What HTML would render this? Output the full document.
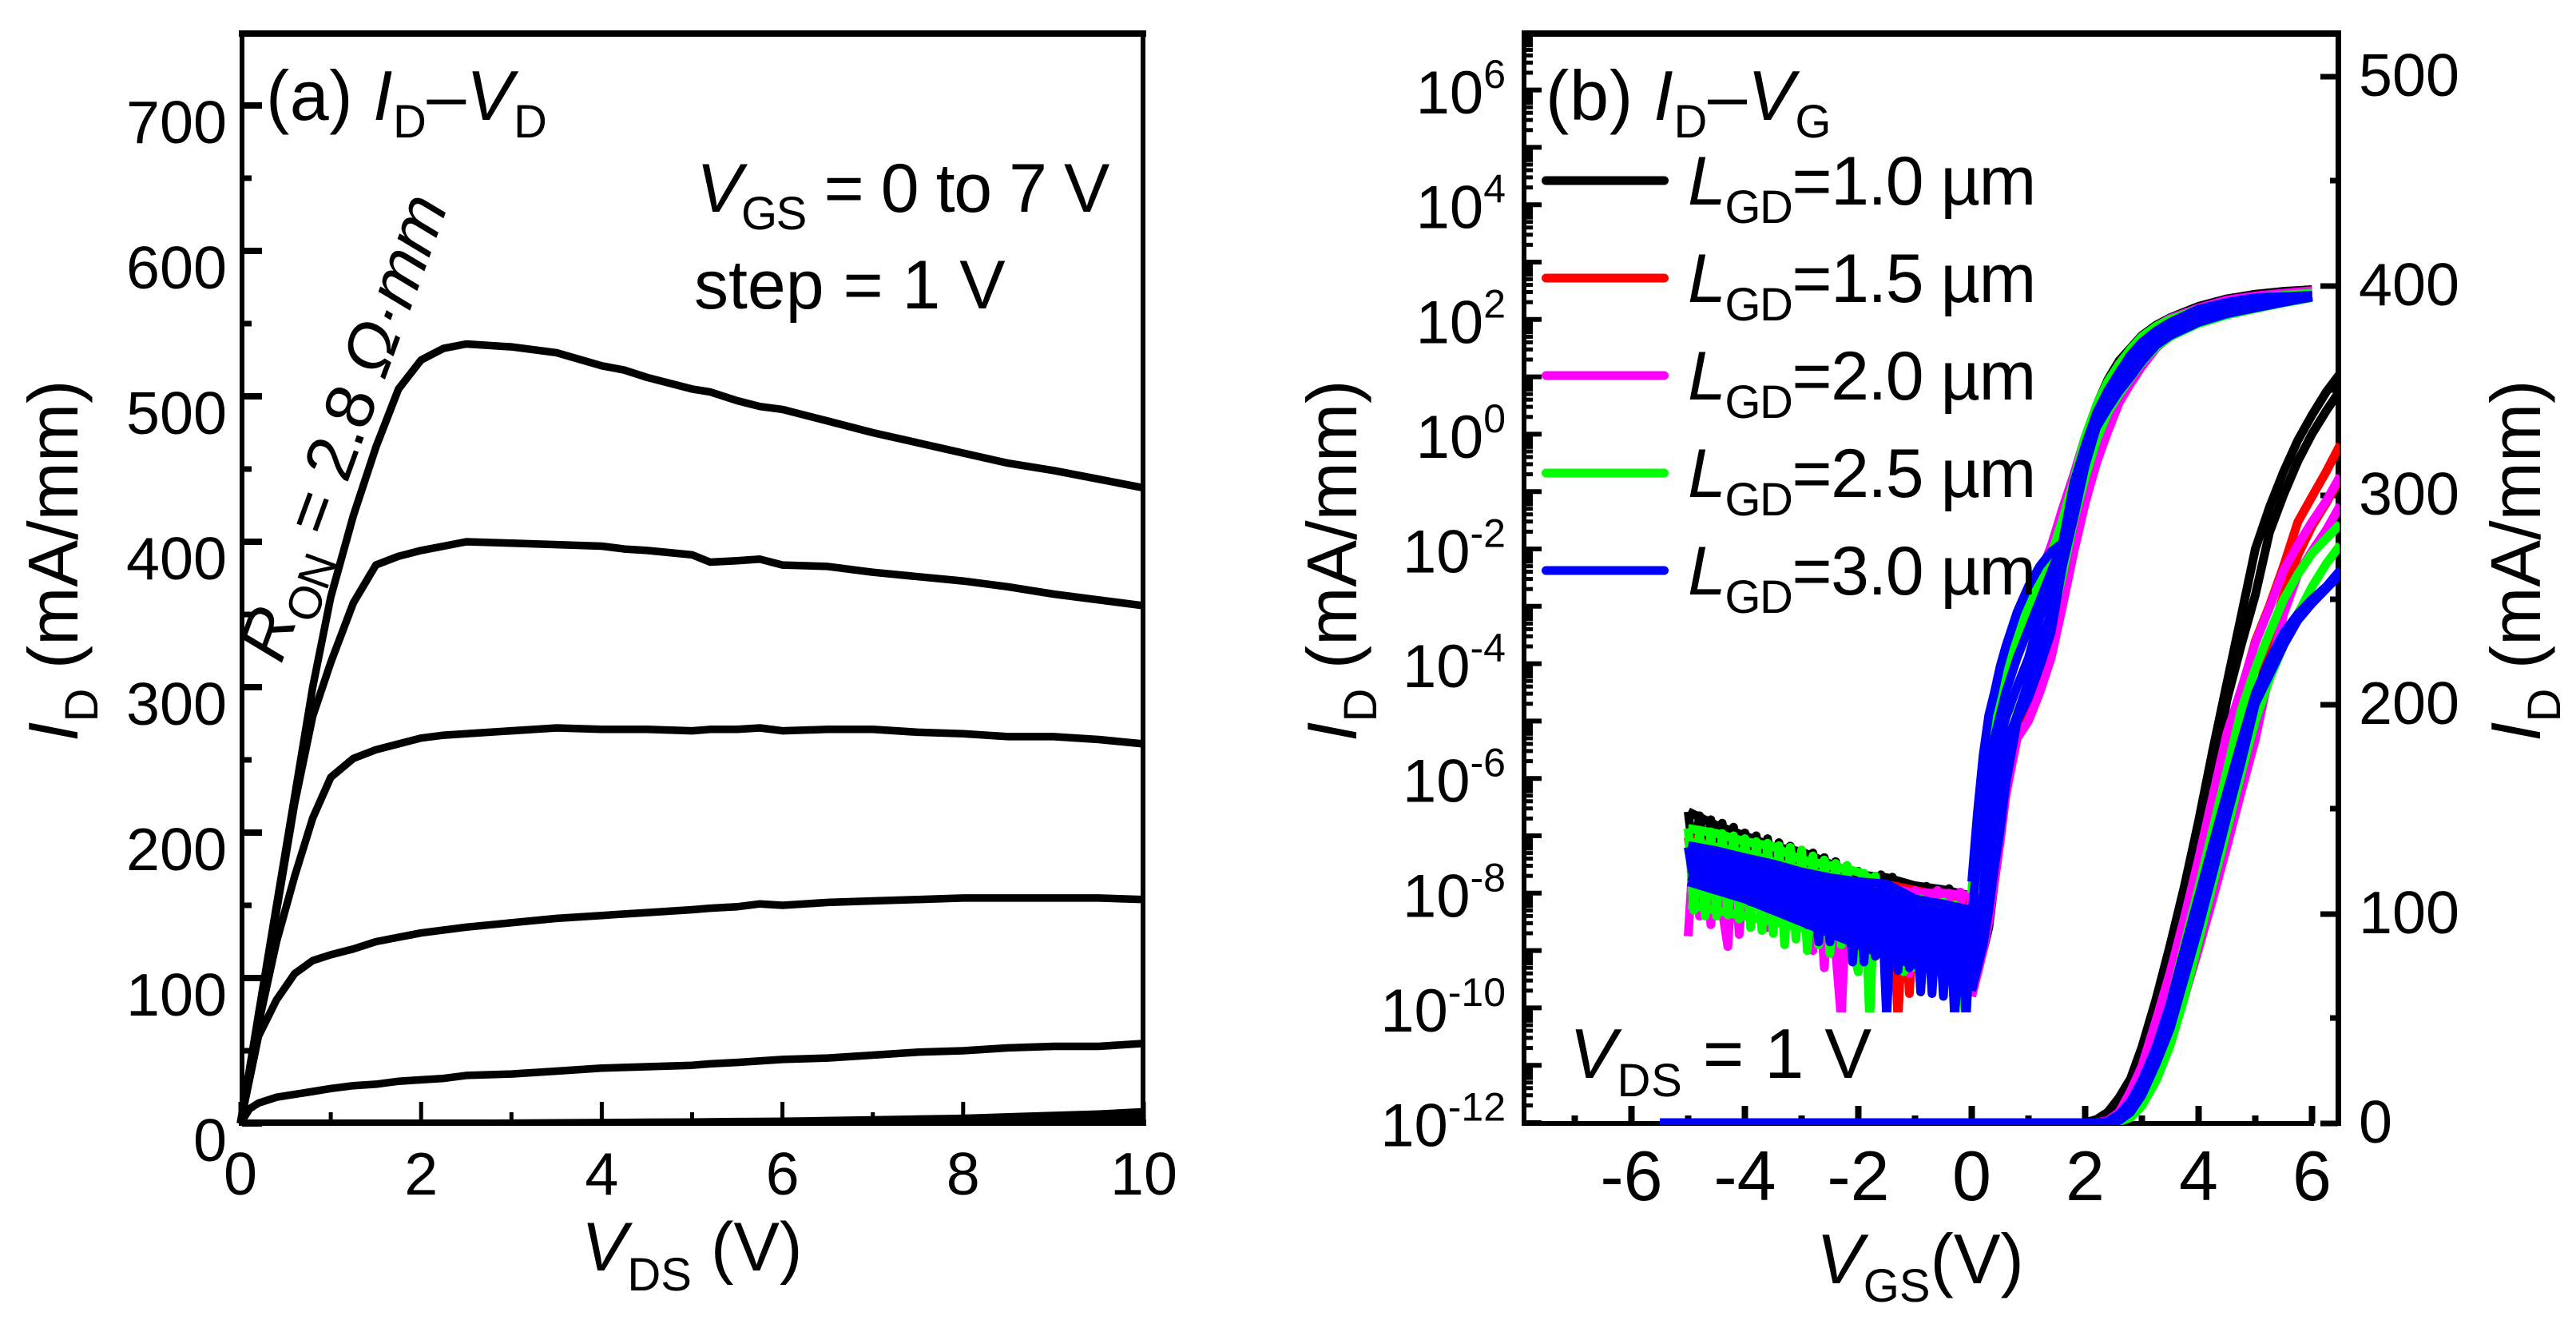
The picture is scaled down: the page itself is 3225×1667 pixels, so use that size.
<!DOCTYPE html>
<html lang="en">
<head>
<meta charset="utf-8">
<title>ID-VD and ID-VG characteristics</title>
<style>
html,body{margin:0;padding:0;background:#fff;}
svg{display:block;}
text{font-family:"Liberation Sans",Arial,sans-serif;fill:#000;}
.i{font-style:italic;}
</style>
</head>
<body>
<svg id="fig" xmlns="http://www.w3.org/2000/svg" width="3225" height="1667" viewBox="0 0 3225 1667">
<defs>
<clipPath id="floorClip"><rect x="2000" y="900" width="700" height="367"/></clipPath>
<clipPath id="linClip"><rect x="1900" y="40" width="1029" height="1368"/></clipPath>
<clipPath id="aClip"><rect x="296" y="40" width="1137" height="1369"/></clipPath>
</defs>
<rect x="0" y="0" width="3225" height="1667" fill="#fff"/>

<g id="panelA"></g>
<g id="panelB"></g>

<!-- panel a text -->
<text x="333" y="150" font-size="88" style="letter-spacing:0.5px">(a) <tspan class="i">I</tspan><tspan font-size="58" dy="22">D</tspan><tspan dy="-22">–</tspan><tspan class="i">V</tspan><tspan font-size="58" dy="22">D</tspan></text>
<text x="872" y="265" font-size="86" style="letter-spacing:-1.4px"><tspan class="i">V</tspan><tspan font-size="58" dy="22">GS</tspan><tspan dy="-22"> = 0 to 7 V</tspan></text>
<text x="869" y="386" font-size="86">step = 1 V</text>
<text transform="translate(352 832) rotate(-70)" font-size="86" style="letter-spacing:-1.2px"><tspan class="i">R</tspan><tspan font-size="58" dy="22">ON</tspan><tspan dy="-22"> = 2.8 </tspan><tspan class="i">Ω·mm</tspan></text>
<text x="728" y="1590" font-size="86"><tspan class="i">V</tspan><tspan font-size="58" dy="25">DS</tspan><tspan dy="-25"> (V)</tspan></text>
<text transform="translate(97 928) rotate(-90)" font-size="88"><tspan class="i">I</tspan><tspan font-size="58" dy="25">D</tspan><tspan dy="-25"> (mA/mm)</tspan></text>

<!-- panel b text -->
<text x="1935" y="150" font-size="88" style="letter-spacing:0.8px">(b) <tspan class="i">I</tspan><tspan font-size="58" dy="22">D</tspan><tspan dy="-22">–</tspan><tspan class="i">V</tspan><tspan font-size="58" dy="22">G</tspan></text>
<text x="1965" y="1349" font-size="88" style="letter-spacing:0.8px"><tspan class="i">V</tspan><tspan font-size="58" dy="23">DS</tspan><tspan dy="-23"> = 1 V</tspan></text>
<text x="2274" y="1606" font-size="88"><tspan class="i">V</tspan><tspan font-size="58" dy="23">GS</tspan><tspan dy="-23">(V)</tspan></text>
<text transform="translate(1698 928) rotate(-90)" font-size="88"><tspan class="i">I</tspan><tspan font-size="58" dy="25">D</tspan><tspan dy="-25"> (mA/mm)</tspan></text>
<text transform="translate(3180 928) rotate(-90)" font-size="88"><tspan class="i">I</tspan><tspan font-size="58" dy="25">D</tspan><tspan dy="-25"> (mA/mm)</tspan></text>

<g id="legend"></g>
</svg>

<script>
/* ---------- panel (a) data ---------- */
const aVds = [0,0.1,0.2,0.4,0.6,0.8,1,1.25,1.5,1.75,2,2.25,2.5,3,3.5,4,4.25,4.5,5,5.2,5.5,5.75,6,6.5,7,7.5,8,8.5,9,9.5,10];
const aVgs7 = [0,37,75,150,225,300,362,418,465,505,525,533,536,534,530,521,518,513,505,503,497,493,491,483,475,468,461,454,449,443,437];
const aVgs6 = [0,36,72,146,220,280,317,358,384,390,394,397,400,399,398,397,395,394,391,386,387,388,384,383,379,376,373,369,364,360,356];
const aVgs5 = [0,33,68,125,170,210,238,251,257,261,265,267,268,270,272,271,271,271,270,271,271,272,270,271,271,269,268,266,266,264,261];
const aVgs4 = [0,30,60,85,103,112,116,120,125,128,131,133,135,138,141,143,144,145,147,148,149,151,150,152,153,154,155,155,155,155,154];
const aVgs3 = [0,10,14,18,20,22,24,26,27,29,30,31,33,34,36,38,38.5,39,40,41,42,43,44,45,47,49,50,52,53,53,55];
const aVgs2 = [0,0,0,0,0,0,0,0,0,0,0,0,0,0.2,0.4,0.6,0.7,0.8,1,1.1,1.3,1.4,1.5,2,2.5,3,3.5,4.5,5.5,6.5,8];
const aVgs1 = [0,0,0,0,0,0,0,0,0,0,0,0,0,0,0,0,0,0.2,0.3,0.3,0.4,0.4,0.5,0.7,1,1.2,1.5,1.8,2.2,2.6,3];
const aVgs0 = [0,0,0,0,0,0,0,0,0,0,0,0,0,0,0,0,0,0,0,0,0,0,0,0,0,0,0,0,0,0,0];
const aCurves = [aVgs0,aVgs1,aVgs2,aVgs3,aVgs4,aVgs5,aVgs6,aVgs7];
const aCurveNames = ['vgs-0','vgs-1','vgs-2','vgs-3','vgs-4','vgs-5','vgs-6','vgs-7'];
const aXMajor = [0,2,4,6,8,10];
const aXMinor = [1,3,5,7,9];
const aYMajor = [0,100,200,300,400,500,600,700];
const aYMinor = [50,150,250,350,450,550,650];

/* ---------- panel (b) data: off-state log10(I), one value per offV ---------- */
const offV = [-5,-4.9,-4.8,-4.7,-4.6,-4.5,-4.4,-4.3,-4.2,-4.1,-4,-3.9,-3.8,-3.7,-3.6,-3.5,-3.4,-3.3,-3.2,-3.1,-3,-2.9,-2.8,-2.7,-2.6,-2.5,-2.4,-2.3,-2.2,-2.1,-2,-1.9,-1.8,-1.7,-1.6,-1.5,-1.4,-1.3,-1.2,-1.1,-1,-0.9,-0.8,-0.7,-0.6,-0.5,-0.4,-0.3,-0.2,-0.1,0];
const blackOff = [-6.58,-7.4,-6.65,-7.5,-6.72,-7.6,-6.78,-7.6,-6.85,-7.7,-6.95,-7.8,-7.0,-7.9,-7.05,-8,-7.12,-8,-7.18,-8.1,-7.25,-8.2,-7.3,-8.3,-7.38,-8.3,-7.45,-8.4,-7.52,-8.5,-7.62,-8.5,-7.7,-8.6,-7.68,-9,-7.72,-10.2,-7.82,-9.5,-7.88,-9.72,-7.88,-9.5,-7.95,-9.4,-7.92,-9.4,-8.0,-10.2,-8.1];
const redOff = [-7.03,-7.7,-7.08,-7.8,-7.12,-7.9,-7.18,-7.9,-7.25,-8,-7.3,-8.1,-7.35,-8.1,-7.4,-8.2,-7.45,-8.3,-7.52,-8.3,-7.6,-8.4,-7.65,-8.5,-7.7,-8.5,-7.75,-8.6,-7.8,-8.7,-7.85,-8.8,-7.9,-9,-7.95,-9.3,-8,-10.2,-8,-9.75,-8,-9.6,-8.05,-9.5,-8.1,-9.5,-8.1,-9.7,-8.15,-9.7,-8.2];
const magentaOff = [-8.75,-7.15,-8.4,-7.2,-8.55,-7.25,-8.3,-8.93,-7.3,-8.72,-7.35,-8.3,-7.4,-7.45,-8.6,-7.5,-8.4,-7.55,-8.5,-7.6,-8.6,-7.65,-9,-7.7,-9.3,-7.75,-9,-10.2,-7.8,-9.2,-7.85,-9,-7.9,-9.1,-8,-9.2,-8,-9.3,-8,-9.4,-7.95,-9.5,-8,-9.6,-7.95,-9.6,-8,-10.2,-7.98,-9.8,-8];
const greenOff = [-6.87,-8.3,-6.9,-8.4,-6.93,-8.4,-6.96,-8.38,-7.0,-8.45,-7.05,-8.6,-7.1,-8.65,-7.13,-8.7,-7.17,-8.9,-7.2,-8.8,-7.25,-9.0,-7.35,-8.9,-7.42,-9.05,-7.48,-8.9,-7.52,-9.0,-9.37,-7.65,-10.2,-7.7,-8.9,-7.9,-9.2,-8.0,-9.37,-8.05,-9.3,-8.1,-9.2,-8.15,-9.3,-8.15,-9.3,-8.2,-9.4,-10.2,-8.3];
const blueOff = [-7.2,-7.8,-7.25,-7.85,-7.28,-7.95,-7.3,-8.0,-7.35,-8.05,-7.4,-8.15,-7.45,-8.2,-7.5,-8.3,-7.55,-8.35,-7.6,-8.4,-7.65,-8.55,-7.7,-8.85,-7.72,-8.85,-7.75,-8.7,-7.78,-9.2,-7.8,-9.2,-7.82,-9.1,-7.85,-10.2,-7.9,-9.35,-8.0,-9.3,-8.1,-9.7,-8.15,-9.75,-8.2,-9.8,-8.25,-10.2,-8.3,-10.2,-8.3];

/* off-state smooth band traces, one value per bandV */
const bandV = [-5,-4.5,-4,-3.5,-3,-2.5,-2,-1.5,-1,-0.5,0];
const blackBand1 = [-6.58,-6.82,-7,-7.19,-7.28,-7.49,-7.68,-7.73,-7.87,-7.94,-8.05];
const redBand1 = [-7.03,-7.2,-7.35,-7.5,-7.6,-7.7,-7.8,-7.85,-7.95,-8.05,-8.15];
const magentaBand1 = [-7.15,-7.25,-7.38,-7.5,-7.62,-7.72,-7.8,-7.9,-8,-8,-8.05];
const greenBand1 = [-6.87,-6.96,-7.1,-7.19,-7.42,-7.52,-7.63,-7.91,-8.1,-8.19,-8.3];
const greenBand2 = [-7.1,-7.2,-7.3,-7.45,-7.6,-7.7,-7.85,-8,-8.2,-8.3,-8.4];
const greenBand3 = [-7.9,-8,-8.1,-8.2,-8.3,-8.4,-8.5,-8.6,-8.7,-8.7,-8.8];
const greenBand4 = [-8.2,-8.3,-8.4,-8.5,-8.6,-8.7,-8.8,-8.9,-9,-9,-9.1];
const blueBand1 = [-7.17,-7.26,-7.38,-7.49,-7.63,-7.73,-7.8,-7.84,-8.1,-8.19,-8.3];
const blueBand2 = [-7.3,-7.4,-7.5,-7.62,-7.75,-7.85,-7.95,-8,-8.22,-8.3,-8.4];
const blueBand3 = [-7.43,-7.53,-7.63,-7.75,-7.88,-7.98,-8.08,-8.15,-8.35,-8.42,-8.5];
const blueBand4 = [-7.56,-7.66,-7.76,-7.88,-8.01,-8.11,-8.21,-8.3,-8.48,-8.55,-8.6];
const blueBand5 = [-7.7,-7.8,-7.9,-8.02,-8.15,-8.25,-8.35,-8.45,-8.62,-8.68,-8.75];
const blueBand6 = [-7.8,-7.9,-8.05,-8.15,-8.3,-8.4,-8.5,-8.6,-8.75,-8.85,-8.9];
const blueBand7 = [-7.8,-7.95,-8.1,-8.3,-8.45,-8.6,-8.7,-8.75,-8.9,-9,-9.05];
const blueBand8 = [-7.8,-7.95,-8.1,-8.3,-8.5,-8.7,-8.85,-8.95,-9.1,-9.15,-9.2];
const blueBand9 = [-7.8,-7.95,-8.1,-8.3,-8.5,-8.7,-8.9,-9.1,-9.25,-9.3,-9.35];

/* on-state log10(I), one value per onV */
const onV = [0,0.1,0.2,0.3,0.4,0.5,0.6,0.8,1,1.2,1.4,1.6,1.8,2,2.2,2.4,2.6,2.8,3,3.25,3.5,4,4.5,5,5.5,6];
const blackLogA = [-8.2,-7.2,-6.3,-5.7,-5.3,-4.9,-4.4,-3.6,-3,-2.5,-1.95,-1.4,-0.85,-0.2,0.5,0.95,1.28,1.5,1.72,1.9,2.03,2.23,2.36,2.44,2.49,2.52];
const blackLogB = [-9.7,-9.4,-9,-8.6,-7.8,-7.1,-6.3,-5.2,-4.75,-4.2,-3.5,-2.3,-1.4,-0.6,0,0.4,0.7,0.98,1.25,1.52,1.7,1.95,2.1,2.22,2.32,2.42];
const redLogA = [-8,-7,-6.1,-5.4,-5,-4.6,-4.2,-3.5,-3,-2.5,-2.1,-1.5,-0.8,-0.1,0.45,0.88,1.2,1.45,1.66,1.86,2,2.2,2.33,2.4,2.45,2.5];
const redLogB = [-9.6,-9.2,-8.8,-8.2,-7.5,-6.8,-6.1,-5.1,-4.6,-4.05,-3.5,-2.4,-1.3,-0.6,0,0.4,0.72,0.98,1.25,1.52,1.72,1.96,2.1,2.22,2.32,2.42];
const magentaLogA = [-8,-6.9,-6,-5.3,-4.9,-4.5,-4.1,-3.4,-2.9,-2.45,-1.95,-1.3,-0.7,-0.05,0.5,0.9,1.23,1.47,1.68,1.88,2.02,2.2,2.34,2.41,2.46,2.5];
const magentaLogB = [-9.8,-9.4,-9,-8.5,-7.8,-7.1,-6.3,-5.3,-5,-4.5,-3.9,-3,-2.05,-1.2,-0.5,0.05,0.55,0.88,1.18,1.5,1.72,2,2.15,2.25,2.33,2.42];
const greenLogA = [-8,-7,-6.1,-5.4,-5,-4.6,-4.2,-3.5,-3,-2.55,-2.1,-1.5,-0.8,-0.05,0.5,0.92,1.22,1.48,1.7,1.88,2,2.18,2.3,2.37,2.42,2.46];
const greenLogB = [-9.3,-9,-8.7,-8.1,-7.5,-6.7,-6,-4.85,-4.4,-3.9,-3.3,-2.45,-1.5,-0.75,-0.1,0.38,0.7,0.98,1.25,1.52,1.7,1.93,2.08,2.19,2.29,2.38];
const blueLogA = [-7.8,-6.6,-5.6,-4.9,-4.5,-4.05,-3.7,-3.1,-2.65,-2.3,-2.05,-1.9,-0.85,-0.2,0.37,0.76,1.08,1.38,1.6,1.8,1.95,2.18,2.3,2.38,2.4,2.42];
const blueLogE = [-8.4,-7.4,-6.5,-5.8,-5.3,-4.9,-4.5,-3.9,-3.4,-2.9,-2.4,-1.9,-0.95,-0.3,0.3,0.68,1,1.28,1.5,1.72,1.88,2.12,2.26,2.33,2.37,2.41];
const blueLogC = [-9,-8.6,-8,-6.8,-5.8,-5.3,-4.95,-4.4,-3.9,-3.2,-2.7,-2,-1.15,-0.4,0.22,0.6,0.92,1.18,1.42,1.65,1.83,2.07,2.2,2.29,2.35,2.41];
const blueLogD = [-9.4,-9,-8.6,-8,-6.9,-5.95,-5.4,-4.9,-4.3,-3.7,-3.1,-2.2,-1.3,-0.48,0.17,0.52,0.84,1.08,1.34,1.6,1.77,2,2.15,2.24,2.32,2.4];
const blueLogB = [-9.7,-9.3,-8.9,-8.3,-7.55,-6.9,-6.1,-5,-4.6,-4.05,-3.45,-2.3,-1.45,-0.55,0.12,0.45,0.75,1,1.27,1.55,1.72,1.95,2.1,2.2,2.3,2.39];

/* linear-scale current (mA/mm), one value per linV */
const linV = [-5.5,2,2.2,2.4,2.6,2.8,3,3.25,3.5,3.75,4,4.25,4.5,4.75,5,5.25,5.5,5.75,6,6.25,6.5];
const blackLinA = [0,0,1.5,5,12,21,36,59,85,113,144,178,210,242,274,294,311,326,338,349,358];
const blackLinB = [0,0,1,3,9,16,28,50,74,105,133,163,202,228,252,282,300,316,329,340,350];
const redLinA = [0,0,0,1,5,14,26,47,70,96,124,154,184,206,230,247,266,287,299,311,324];
const redLinB = [0,0,0,1,4,9,17,29,47,67,90,115,140,166,197,230,252,271,285,296,308];
const magentaLinA = [0,0,0,1,5,15,27,49,72,98,126,156,186,207,229,246,264,276,287,297,309];
const magentaLinB = [0,0,0,0,1,4,12,25,38,60,83,107,132,158,183,215,243,262,273,283,295];
const greenLinA = [0,0,0,0,2,8,18,36,57,85,112,140,168,197,217,234,250,262,272,279,286];
const greenLinB = [0,0,0,0,0.5,2.5,8,20,37,60,87,114,140,167,192,212,228,243,256,267,276];
const blueLinA = [0,0,0,0.5,4,10,20,36,57,83,108,133,158,182,205,221,234,243,250,256,264];
const blueLinB = [0,0,0,0,1,5,13,28,45,69,93,119,146,172,200,214,228,240,248,255,262];

const seriesNames = ['lgd-1-0','lgd-1-5','lgd-2-0','lgd-2-5','lgd-3-0'];
const seriesColors = ['#000000','#ff0000','#ff00ff','#00ff00','#0000ff'];
const seriesOff = [blackOff,redOff,magentaOff,greenOff,blueOff];
const seriesBands = [[blackBand1],[redBand1],[magentaBand1],[greenBand1,greenBand2,greenBand3,greenBand4],[blueBand1,blueBand2,blueBand3,blueBand4,blueBand5,blueBand6,blueBand7,blueBand8,blueBand9]];
const seriesLog = [[blackLogA,blackLogB],[redLogA,redLogB],[magentaLogA,magentaLogB],[greenLogA,greenLogB],[blueLogA,blueLogE,blueLogC,blueLogD,blueLogB]];
const seriesLin = [[blackLinA,blackLinB],[redLinA,redLinB],[magentaLinA,magentaLinB],[greenLinA,greenLinB],[blueLinA,blueLinB]];
const legendLabels = ['=1.0 µm','=1.5 µm','=2.0 µm','=2.5 µm','=3.0 µm'];

const bXMajor = [-6,-4,-2,0,2,4,6];
const bXMinor = [-7,-5,-3,-1,1,3,5];
const bYDecades = [-12,-11,-10,-9,-8,-7,-6,-5,-4,-3,-2,-1,0,1,2,3,4,5,6];
const bYLabels = [-12,-10,-8,-6,-4,-2,0,2,4,6];
const bMinorFactors = [2,3,4,5,6,7,8,9];
const bRightMajor = [0,100,200,300,400,500];
const bRightMinor = [50,150,250,350,450];

/* ---------- axis functions ---------- */
function xA(v){return 301+113.1*v;}
function yA(v){return 1406-1.82*v;}
function xB(v){return 2468.5+71*v;}
function yLog(v){return 1405-71.8*(v+12);}
function yLin(v){return 1405-2.62*v;}

/* ---------- helpers ---------- */
const NS='http://www.w3.org/2000/svg';
function make(tag,parent,attrs){
  const el=document.createElementNS(NS,tag);
  for(const k in attrs){el.setAttribute(k,attrs[k]);}
  parent.appendChild(el);
  return el;
}
function seg(parent,x1,y1,x2,y2,w){
  return make('line',parent,{x1:x1,y1:y1,x2:x2,y2:y2,stroke:'#000','stroke-width':w});
}
function pointsOf(xs,ys,fx,fy){
  return xs.map(function(x,i){return fx(x).toFixed(1)+','+fy(ys[i]).toFixed(1);}).join(' ');
}
function trace(parent,xs,ys,fx,fy,color,w){
  return make('polyline',parent,{points:pointsOf(xs,ys,fx,fy),fill:'none',stroke:color,'stroke-width':w,'stroke-linejoin':'round','stroke-linecap':'butt'});
}

/* ---------- panel a ---------- */
const pa=document.getElementById('panelA');
const aFrame=make('g',pa,{});


seg(aFrame,299,42,1435,42,8);
seg(aFrame,303,38,303,1409,6);
seg(aFrame,1431,38,1431,1409,6);
seg(aFrame,299,1405,1435,1405,8);

aYMajor.forEach(function(v){
  const t=seg(pa,303,yA(v),328,yA(v),8);
  
  
  const l=make('text',pa,{x:284,y:yA(v)+47,'font-size':75.5,'text-anchor':'end'});
  l.textContent=String(v);
  
  
});
aYMinor.forEach(function(v){
  const t=seg(pa,303,yA(v),315,yA(v),7);
  
  
});
aXMajor.forEach(function(v){
  const t=seg(pa,xA(v),1405,xA(v),1379,5);
  
  
  const l=make('text',pa,{x:xA(v),y:1495,'font-size':75.5,'text-anchor':'middle'});
  l.textContent=String(v);
  
  
});
aXMinor.forEach(function(v){
  const t=seg(pa,xA(v),1405,xA(v),1392,5);
  
  
});
const aLines=make('g',pa,{'clip-path':'url(#aClip)'});


aCurves.forEach(function(c,i){
  const p=trace(aLines,aVds,c,xA,yA,'#000',9.5);
  
  
});

/* ---------- panel b ---------- */
const pb=document.getElementById('panelB');
const bFrame=make('g',pb,{});


seg(bFrame,1905,42,2931,42,8);
seg(bFrame,1908,38,1908,1409,6);
seg(bFrame,2927.5,38,2927.5,1409,7);
seg(bFrame,1905,1406,2897,1406,6);

bYDecades.forEach(function(d){
  const t=seg(pb,1908,yLog(d),1930,yLog(d),6);
  
  
  bMinorFactors.forEach(function(f){
    const m=seg(pb,1908,yLog(d+Math.log10(f)),1919,yLog(d+Math.log10(f)),5);
    
    
  });
});
bYLabels.forEach(function(d){
  const l=make('text',pb,{x:1885,y:yLog(d)+29.5,'font-size':76,'text-anchor':'end'});
  const base=make('tspan',l,{});
  base.textContent='10';
  const sup=make('tspan',l,{'font-size':50,dy:-32});
  sup.textContent=String(d);
  
  
});
bXMajor.forEach(function(v){
  const t=seg(pb,xB(v),1406,xB(v),1384,8);
  
  
  const l=make('text',pb,{x:xB(v),y:1502,'font-size':88,'text-anchor':'middle'});
  l.textContent=String(v);
  
  
});
bXMinor.forEach(function(v){
  const t=seg(pb,xB(v),1406,xB(v),1396,8);
  
  
});
bRightMajor.forEach(function(v){
  const t=seg(pb,2905,yLin(v)+1,2927,yLin(v)+1,7);
  
  
  const l=make('text',pb,{x:2953,y:yLin(v)+25,'font-size':75.5});
  l.textContent=String(v);
  
  
});
bRightMinor.forEach(function(v){
  const t=seg(pb,2917,yLin(v),2927,yLin(v),7);
  
  
});

const bCurves=make('g',pb,{});


seriesNames.forEach(function(name,s){
  const g=make('g',bCurves,{});
  
  
  const linG=make('g',g,{'clip-path':'url(#linClip)'});
  
  
  seriesLin[s].forEach(function(vals){
    const p=trace(linG,linV,vals,xB,yLin,seriesColors[s],11);
    
    
  });
  const offG=make('g',g,{'clip-path':'url(#floorClip)'});
  
  
  const off=trace(offG,offV,seriesOff[s],xB,yLog,seriesColors[s],11);
  
  
  seriesBands[s].forEach(function(vals){
    const p=trace(offG,bandV,vals,xB,yLog,seriesColors[s],11);
    
    
  });
  seriesLog[s].forEach(function(vals){
    const p=trace(g,onV,vals,xB,yLog,seriesColors[s],11);
    
    
  });
});

/* ---------- legend ---------- */
const lg=document.getElementById('legend');
seriesNames.forEach(function(name,i){
  const yLine=226+122*i;
  const ln=make('line',lg,{x1:1935.5,y1:yLine,x2:2083.5,y2:yLine,stroke:seriesColors[i],'stroke-width':11,'stroke-linecap':'round'});
  
  
  const t=make('text',lg,{x:2113,y:yLine+30,'font-size':86,style:'letter-spacing:-1.5px'});
  const a=make('tspan',t,{'font-style':'italic'});
  a.textContent='L';
  const b=make('tspan',t,{'font-size':58,dy:23});
  b.textContent='GD';
  const c=make('tspan',t,{dy:-23});
  c.textContent=legendLabels[i];
  
  
});
</script>
</body>
</html>
